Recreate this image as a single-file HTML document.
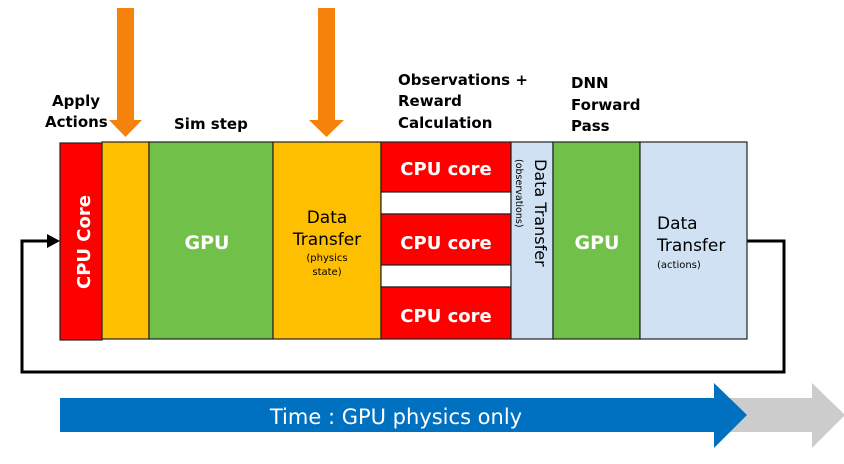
<!DOCTYPE html>
<html><head><meta charset="utf-8"><style>
body{margin:0;background:#fff;width:844px;height:460px;overflow:hidden;font-family:"DejaVu Sans","Liberation Sans",sans-serif}
svg text{font-family:"DejaVu Sans","Liberation Sans",sans-serif}
</style></head><body>
<svg width="844" height="460" viewBox="0 0 844 460">
<polygon points="117,8 134,8 134,120 142,120 125.5,137 109,120 117,120" fill="#f5820a"/>
<polygon points="318,8 335,8 335,120 344,120 326.5,137 309,120 318,120" fill="#f5820a"/>
<g font-size="15" font-weight="bold" fill="#000">
<text x="52" y="106">Apply</text><text x="45" y="127">Actions</text>
<text x="174" y="129">Sim step</text>
<text x="398" y="85">Observations +</text><text x="398" y="106">Reward</text><text x="398" y="128">Calculation</text>
<text x="571" y="88">DNN</text><text x="571" y="110">Forward</text><text x="571" y="131">Pass</text>
</g>
<polyline points="747,241 784,241 784,372 22,372 22,241 50,241" fill="none" stroke="#000" stroke-width="3"/>
<polygon points="60,241 47,234 47,248" fill="#000"/>
<g stroke="#222" stroke-width="1.2">
<rect x="60" y="143" width="42" height="197" fill="#ff0000"/>
<rect x="102" y="142" width="47" height="197" fill="#fdbf00"/>
<rect x="149" y="142" width="124" height="197" fill="#71c04a"/>
<rect x="273" y="142" width="108" height="197" fill="#fdbf00"/>
<rect x="381" y="142" width="130" height="50" fill="#ff0000"/>
<rect x="381" y="192" width="130" height="22" fill="#fff"/>
<rect x="381" y="214" width="130" height="51" fill="#ff0000"/>
<rect x="381" y="265" width="130" height="22" fill="#fff"/>
<rect x="381" y="287" width="130" height="52" fill="#ff0000"/>
<rect x="511" y="142" width="42" height="197" fill="#cfe1f2"/>
<rect x="553" y="142" width="87" height="197" fill="#71c04a"/>
<rect x="640" y="142" width="107" height="197" fill="#cfe1f2"/>
</g>
<text transform="translate(90,289) rotate(-90)" font-size="18" font-weight="bold" fill="#fff">CPU Core</text>
<text x="207" y="249" font-size="19" font-weight="bold" fill="#fff" text-anchor="middle">GPU</text>
<text x="327" y="223" font-size="17" fill="#000" text-anchor="middle">Data</text>
<text x="327" y="245" font-size="17" fill="#000" text-anchor="middle">Transfer</text>
<text x="327" y="261" font-size="10" fill="#000" text-anchor="middle">(physics</text>
<text x="327" y="275" font-size="10" fill="#000" text-anchor="middle">state)</text>
<g font-size="18" font-weight="bold" fill="#fff" text-anchor="middle">
<text x="446" y="175">CPU core</text><text x="446" y="249">CPU core</text><text x="446" y="322">CPU core</text>
</g>
<text transform="translate(535,159) rotate(90)" font-size="16" fill="#000">Data Transfer</text>
<text transform="translate(516,159) rotate(90)" font-size="9.5" fill="#000">(observations)</text>
<text x="597" y="249" font-size="19" font-weight="bold" fill="#fff" text-anchor="middle">GPU</text>
<text x="657" y="229" font-size="17" fill="#000">Data</text>
<text x="657" y="251" font-size="17" fill="#000">Transfer</text>
<text x="657" y="268" font-size="10" fill="#000">(actions)</text>
<polygon points="700,398 812,398 812,383 845,415 812,448 812,432 700,432" fill="#cccccc"/>
<polygon points="60,398 714,398 714,383 747,415 714,448 714,432 60,432" fill="#0070c0"/>
<text x="396" y="424" font-size="21" fill="#fff" text-anchor="middle">Time : GPU physics only</text>
</svg>
</body></html>
